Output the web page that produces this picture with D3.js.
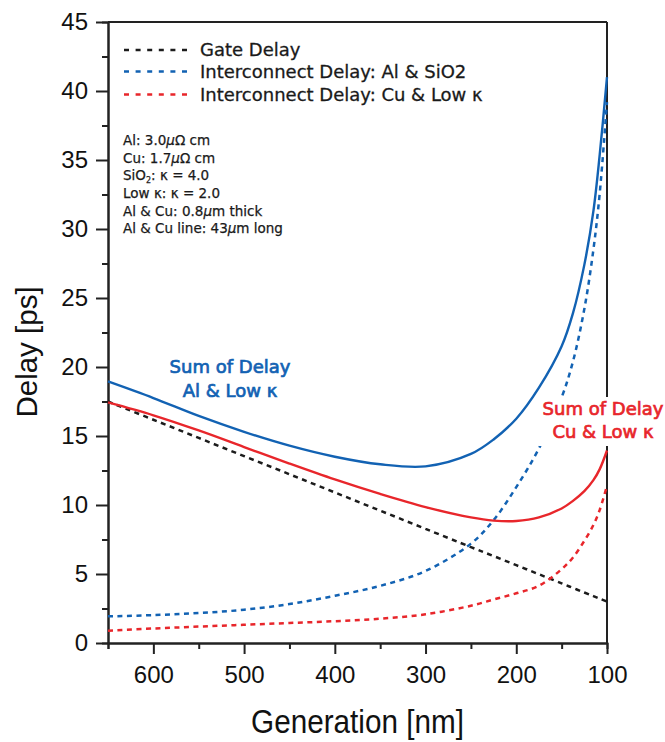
<!DOCTYPE html>
<html>
<head>
<meta charset="utf-8">
<script src="https://cdn.jsdelivr.net/npm/d3@7"></script>
<style>
  body { margin: 0; background: #fff; }
</style>
</head>
<body>
<div id="graphContainer"></div>
<script>
// generation [nm], read along the x axis
const generation = [650, 600, 550, 500, 450, 400, 350, 300, 250, 225, 200, 175, 150, 137.5, 125, 115, 108, 100];

// delay values [ps]
const gateDelay   = [17.5, 16.18, 14.86, 13.54, 12.23, 10.91, 9.59, 8.27, 6.95, 6.3, 5.64, 4.98, 4.32, 3.99, 3.66, 3.4, 3.21, 3.0];
const interAlSiO2 = [1.93, 2.02, 2.17, 2.41, 2.82, 3.42, 4.14, 5.22, 7.2, 8.9, 11.3, 14.1, 17.8, 20.4, 24.2, 28.5, 32.6, 39.2];
const interCuLowK = [0.89, 1.05, 1.19, 1.32, 1.45, 1.58, 1.76, 2.08, 2.7, 3.15, 3.6, 4.15, 5.35, 6.2, 7.4, 8.55, 9.65, 11.4];
const sumAlLowK   = [18.95, 17.75, 16.45, 15.3, 14.3, 13.5, 12.95, 12.8, 13.7, 14.75, 16.25, 18.5, 21.5, 23.9, 27.4, 31.3, 35.4, 41.0];
const sumCuLowK   = [17.43, 16.5, 15.4, 14.2, 13.0, 11.85, 10.8, 9.85, 9.1, 8.87, 8.84, 9.1, 9.75, 10.3, 11.0, 11.8, 12.6, 13.95];

const xMajor = [600, 500, 400, 300, 200, 100];
const xMinor = [650, 550, 450, 350, 250, 150];
const yMajor = [0, 5, 10, 15, 20, 25, 30, 35, 40, 45];
const yMinor = [2.5, 7.5, 12.5, 17.5, 22.5, 27.5, 32.5, 37.5, 42.5];

const legendNames = ["Gate Delay", "Interconnect Delay: Al & SiO2", "Interconnect Delay: Cu & Low \u03BA"];

const BLUE = "#1262b3";
const RED = "#e8262b";
const BLACK = "#1c1c1c";

const margin = { top: 22, right: 58, bottom: 99, left: 108 };
const width = 665 - margin.left - margin.right;
const height = 742 - margin.top - margin.bottom;

const svg = d3.select("#graphContainer")
  .append("svg")
  .attr("width", 665)
  .attr("height", 742)
  .style("background-color", "white");

const g = svg.append("g")
  .attr("transform", "translate(" + margin.left + "," + margin.top + ")");

const x = d3.scaleLinear().domain([650, 100]).range([0, width]);
const y = d3.scaleLinear().domain([0, 45]).range([height, 0]);

// frame top / right
g.append("line").attr("x1", 0).attr("x2", width).attr("y1", 0).attr("y2", 0)
  .attr("stroke", "#222").attr("stroke-width", 2);
g.append("line").attr("x1", width).attr("x2", width).attr("y1", 0).attr("y2", height)
  .attr("stroke", "#222").attr("stroke-width", 2);

// X axis
const xAxisMinor = g.append("g")
  .attr("transform", "translate(0," + height + ")")
  .call(d3.axisBottom(x).tickValues(xMinor).tickSize(6).tickFormat(""));
const xAxis = g.append("g")
  .attr("transform", "translate(0," + height + ")")
  .call(d3.axisBottom(x).tickValues(xMajor).tickSize(11).tickPadding(12).tickSizeOuter(0).tickFormat(d3.format("d")));

// Y axis
const yAxisMinor = g.append("g")
  .call(d3.axisLeft(y).tickValues(yMinor).tickSize(6).tickFormat(""));
const yAxis = g.append("g")
  .call(d3.axisLeft(y).tickValues(yMajor).tickSize(12).tickPadding(8).tickSizeOuter(0));

[xAxisMinor, xAxis, yAxisMinor, yAxis].forEach(function(a) {
  a.select(".domain").attr("stroke", "#222").attr("stroke-width", 2);
  a.selectAll(".tick line").attr("stroke", "#222").attr("stroke-width", 2);
});
xAxis.selectAll("text").style("font-family", "'Liberation Sans', Arial, sans-serif").style("font-size", "24px").attr("fill", "#111");
yAxis.selectAll("text").style("font-family", "'Liberation Sans', Arial, sans-serif").style("font-size", "24px").attr("fill", "#111");

// Add the lines
const series = [
  { name: "gate", values: gateDelay, color: BLACK, dash: "5,4.5", w: 2.5 },
  { name: "interAl", values: interAlSiO2, color: BLUE, dash: "5,4.5", w: 2.5 },
  { name: "interCu", values: interCuLowK, color: RED, dash: "5,4.5", w: 2.5 },
  { name: "sumAl", values: sumAlLowK, color: BLUE, dash: null, w: 2.4 },
  { name: "sumCu", values: sumCuLowK, color: RED, dash: null, w: 2.4 }
];

const line = d3.line()
  .x(function(d, i) { return x(generation[i]) })
  .y(function(d) { return y(d) })
  .curve(d3.curveCatmullRom.alpha(0.5));

g.selectAll("myLines")
  .data(series)
  .enter()
  .append("path")
    .attr("d", function(d) { return line(d.values) })
    .attr("stroke", function(d) { return d.color })
    .attr("stroke-dasharray", function(d) { return d.dash })
    .style("stroke-width", function(d) { return d.w })
    .style("fill", "none");

// legend
const legendFont = "'DejaVu Sans', Verdana, sans-serif";
const legendColors = [BLACK, BLUE, RED];
const legendY = [50, 71.5, 94.5];
legendNames.forEach(function(name, i) {
  svg.append("line")
    .attr("x1", 124).attr("x2", 192)
    .attr("y1", legendY[i]).attr("y2", legendY[i])
    .attr("stroke", legendColors[i])
    .attr("stroke-width", 2.5)
    .attr("stroke-dasharray", "5,6.6");
  svg.append("text")
    .attr("x", 200).attr("y", legendY[i] + 6)
    .style("font-family", legendFont)
    .style("font-size", "18px")
    .attr("fill", "#1a1a1a")
    .attr("stroke", "#1a1a1a")
    .attr("stroke-width", 0.3)
    .text(name);
});

// parameter notes
const notes = svg.append("g")
  .style("font-family", legendFont)
  .style("font-size", "13.5px")
  .attr("fill", "#1a1a1a")
  .attr("stroke", "#1a1a1a")
  .attr("stroke-width", 0.25);
const noteY = [145, 162.7, 180.3, 198, 215.6, 233.3];

let t = notes.append("text").attr("x", 123).attr("y", noteY[0]);
t.append("tspan").text("Al: 3.0");
t.append("tspan").style("font-style", "italic").text("\u03BC");
t.append("tspan").text("\u03A9 cm");

t = notes.append("text").attr("x", 123).attr("y", noteY[1]);
t.append("tspan").text("Cu: 1.7");
t.append("tspan").style("font-style", "italic").text("\u03BC");
t.append("tspan").text("\u03A9 cm");

t = notes.append("text").attr("x", 123).attr("y", noteY[2]);
t.append("tspan").text("SiO");
t.append("tspan").attr("dy", 3).style("font-size", "8px").text("2");
t.append("tspan").attr("dy", -3).text(": \u03BA = 4.0");

notes.append("text").attr("x", 123).attr("y", noteY[3]).text("Low \u03BA: \u03BA = 2.0");

t = notes.append("text").attr("x", 123).attr("y", noteY[4]);
t.append("tspan").text("Al & Cu: 0.8");
t.append("tspan").style("font-style", "italic").text("\u03BC");
t.append("tspan").text("m thick");

t = notes.append("text").attr("x", 123).attr("y", noteY[5]);
t.append("tspan").text("Al & Cu line: 43");
t.append("tspan").style("font-style", "italic").text("\u03BC");
t.append("tspan").text("m long");

// curve annotations
function label(cx, ys, lines, color, bg) {
  if (bg) {
    svg.append("rect")
      .attr("x", cx - 64).attr("y", ys[0] - 18)
      .attr("width", 128).attr("height", ys[1] - ys[0] + 26)
      .attr("fill", "white");
  }
  lines.forEach(function(s, i) {
    svg.append("text")
      .attr("x", cx).attr("y", ys[i])
      .attr("text-anchor", "middle")
      .style("font-family", legendFont)
      .style("font-size", "18px")
      .attr("fill", color)
      .attr("stroke", color)
      .attr("stroke-width", 0.7)
      .text(s);
  });
}
label(230, [373, 397], ["Sum of Delay", "Al & Low \u03BA"], BLUE, false);
label(603, [415, 438], ["Sum of Delay", "Cu & Low \u03BA"], RED, true);

// axis titles
svg.append("text")
  .attr("transform", "translate(37,352) rotate(-90)")
  .attr("text-anchor", "middle")
  .style("font-family", "'Liberation Sans', Arial, sans-serif")
  .style("font-size", "29.5px")
  .attr("fill", "#111")
  .text("Delay [ps]");

svg.append("text")
  .attr("transform", "translate(357.5,733) scale(0.9,1)")
  .attr("text-anchor", "middle")
  .style("font-family", "'Liberation Sans', Arial, sans-serif")
  .style("font-size", "33px")
  .attr("fill", "#111")
  .text("Generation [nm]");
</script>
</body>
</html>
